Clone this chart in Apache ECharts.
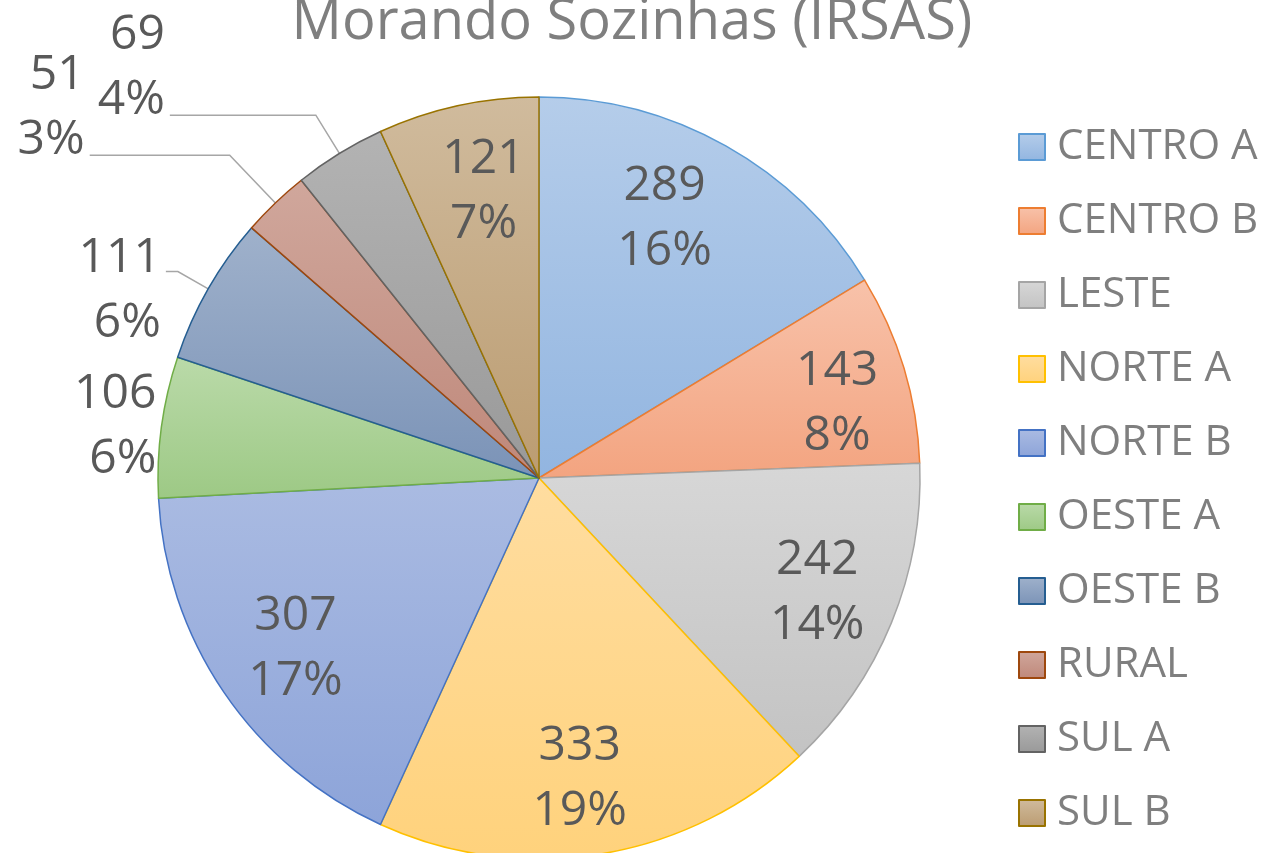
<!DOCTYPE html>
<html>
<head>
<meta charset="utf-8">
<script src="https://cdn.jsdelivr.net/npm/echarts@6/dist/echarts.min.js"></script>
<style>
html,body{margin:0;padding:0;background:#fff;}
#chart{width:1264px;height:853px;}
</style>
</head>
<body>
<div id="chart"></div>
<script>
const titleText = 'Morando Sozinhas (IRSAS)';
const categories = ['CENTRO A','CENTRO B','LESTE','NORTE A','NORTE B','OESTE A','OESTE B','RURAL','SUL A','SUL B'];
const values = [289,143,242,333,307,106,111,51,69,121];

const baseColors = ['#5B9BD5','#ED7D31','#A5A5A5','#FFC000','#4472C4','#70AD47','#255E91','#9E480E','#636363','#997300'];
const topColors = ['#B5CDEA','#F8C2AA','#D7D7D7','#FFDDA0','#AABBE2','#BADAA9','#9FB1CB','#D0A79C','#B3B3B3','#D0BB9D'];
const botColors = ['#92B5E0','#F3A480','#C3C3C3','#FFD27C','#8DA4D9','#9DC985','#7B93B7','#BF887A','#999999','#BB9C71'];

const total = values.reduce((a,b)=>a+b,0);

// outside label settings (style only): gapTop/gapBottom shift text relative to the leader line end
const outside = {
  'OESTE A': {len:0, len2:0, line:false, gapTop:0, gapBottom:0},
  'OESTE B': {len:35, len2:12, line:true, gapTop:38, gapBottom:0},
  'RURAL':   {len:66, len2:140, line:true, gapTop:0, gapBottom:94},
  'SUL A':   {len:45, len2:146, line:true, gapTop:0, gapBottom:94}
};
// inside label fine placement (padding, style only)
const insidePad = {
  'CENTRO A': [10,46,0,0],
  'CENTRO B': [26,0,0,16],
  'LESTE':    [0,4,0,0],
  'NORTE A':  [4,16,0,0],
  'NORTE B':  [0,0,0,14],
  'SUL B':    [20,0,0,18]
};

const fmt = p => {
  const o = outside[p.name];
  let s = '{v|' + p.value + '}\n{v|' + Math.round(p.value/total*100) + '%}';
  if (p.seriesIndex === 0 && o) {
    if (o.gapTop) s = '{t| }\n' + s;
    if (o.gapBottom) s = s + '\n{b| }';
  }
  return s;
};

const rich = {
  v: {fontFamily:'Open Sans', fontSize:48, lineHeight:65, color:'#595959'},
  t: {fontSize:10, lineHeight:38},
  b: {fontSize:10, lineHeight:94}
};

const mainData = categories.map((name,i)=>{
  const o = outside[name];
  const item = {
    name: name,
    value: values[i],
    itemStyle: {
      color: new echarts.graphic.LinearGradient(0,0,0,1,[
        {offset:0,color:topColors[i]},{offset:1,color:botColors[i]}
      ]),
      borderColor: baseColors[i],
      borderWidth: 1.5
    }
  };
  if (o) {
    item.label = {show:true, position:'outside'};
    item.labelLine = {show:o.line, length:o.len, length2:o.len2};
  }
  return item;
});

const labelData = categories.map((name,i)=>({
  name: name,
  value: values[i],
  label: {show: !outside[name], padding: insidePad[name] || [10,0,0,0]}
}));

const chart = echarts.init(document.getElementById('chart'), null, {renderer:'canvas'});
chart.setOption({
  backgroundColor: '#ffffff',
  animation: false,
  title: {
    text: titleText,
    left: 'center',
    top: -10,
    textStyle: {fontFamily:'Open Sans', fontSize:56, fontWeight:'normal', color:'#7F7F7F'}
  },
  legend: {
    orient: 'vertical',
    left: 1013,
    top: 120,
    itemWidth: 26,
    itemHeight: 26,
    itemGap: 30,
    icon: 'rect',
    data: categories,
    textStyle: {fontFamily:'Open Sans', fontSize:42, lineHeight:44, color:'#7F7F7F', padding:[0,0,0,7]}
  },
  series: [
    {
      type: 'pie',
      center: [539,478],
      radius: [0,381],
      startAngle: 90,
      clockwise: true,
      avoidLabelOverlap: false,
      labelLayout: {hideOverlap:false},
      minShowLabelAngle: 0,
      data: mainData,
      label: {show:false, formatter:fmt, rich:rich, overflow:'none', distanceToLabelLine:5},
      labelLine: {lineStyle:{color:'#A6A6A6', width:1.5}, smooth:false},
      emphasis: {disabled:true}
    },
    {
      type: 'pie',
      center: [539,478],
      radius: [219,381],
      startAngle: 90,
      clockwise: true,
      silent: true,
      avoidLabelOverlap: false,
      labelLayout: {hideOverlap:false},
      data: labelData,
      itemStyle: {color:'rgba(0,0,0,0)', borderWidth:0},
      label: {position:'inside', formatter:fmt, rich:rich},
      labelLine: {show:false},
      emphasis: {disabled:true}
    }
  ]
});
</script>
</body>
</html>
